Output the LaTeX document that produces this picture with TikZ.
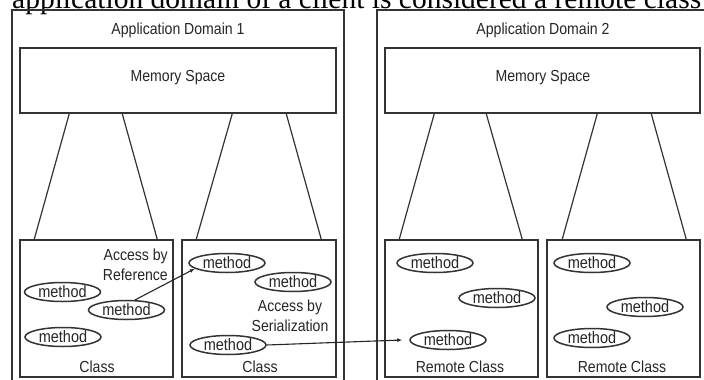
\documentclass[tikz,border=0pt]{standalone}
\usepackage{fontspec}
\setmainfont[FakeStretch=0.88]{Liberation Sans}
\newfontfamily\capserif{Liberation Serif}
\usetikzlibrary{shapes.geometric,arrows.meta}
\definecolor{ink}{HTML}{262626}
\definecolor{lin}{HTML}{333333}
\begin{document}
\begin{tikzpicture}[x=1pt,y=-1pt,
  txt/.style={font=\fontsize{16}{20}\selectfont, text=ink, inner sep=0pt},
  dombox/.style={draw=lin, line width=1.8pt},
  boxx/.style={draw=lin, line width=1.5pt, rectangle, inner sep=0pt},
  meth/.style={draw=lin, line width=1.5pt, ellipse, inner sep=0pt, minimum width=76pt, minimum height=19pt, font=\fontsize{16.5}{16}\selectfont, text=ink},
  link/.style={draw=lin, line width=1.2pt},
  arr/.style={draw=black!85, line width=1.1pt, -{Latex[length=5pt,width=4pt]}}
]
\useasboundingbox (0,0) rectangle (704,380);
\clip (0,0) rectangle (704,380);
\fill[white] (0,0) rectangle (704,380);

% cut-off caption line at top (cut in the reference too)
\node[anchor=base west, inner sep=0pt, font=\capserif\fontsize{29.5}{30}\selectfont] (cap) at (12,8.5) {application domain of a client is considered a remote class};

% domains
\draw[dombox] (12,10) rectangle (344,400);
\draw[dombox] (377,10) rectangle (720,400);
\node[txt] (d1) at (178,30) {Application Domain 1};
\node[txt] (d2) at (543,30) {Application Domain 2};

% memory spaces
\node[boxx, minimum width=316pt, minimum height=65pt] (mem1) at (178,80.5) {};
\node[boxx, minimum width=315pt, minimum height=65pt] (mem2) at (542.5,80.5) {};
\node[txt] at (178,78) {Memory Space};
\node[txt] at (543,78) {Memory Space};

% class boxes
\node[boxx, minimum width=153pt, minimum height=137pt] (c1) at (96.5,308.5) {};
\node[boxx, minimum width=154pt, minimum height=137pt] (c2) at (259,308.5) {};
\node[boxx, minimum width=153pt, minimum height=137pt] (c3) at (461.5,308.5) {};
\node[boxx, minimum width=153pt, minimum height=137pt] (c4) at (623.5,308.5) {};

% links memory -> classes
\draw[link] ([xshift=50pt]mem1.south west) -- ([xshift=15pt]c1.north west);
\draw[link] ([xshift=103pt]mem1.south west) -- ([xshift=138pt]c1.north west);
\draw[link] ([xshift=213pt]mem1.south west) -- ([xshift=15pt]c2.north west);
\draw[link] ([xshift=267pt]mem1.south west) -- ([xshift=140pt]c2.north west);
\draw[link] ([xshift=50pt]mem2.south west) -- ([xshift=15pt]c3.north west);
\draw[link] ([xshift=102pt]mem2.south west) -- ([xshift=138pt]c3.north west);
\draw[link] ([xshift=213pt]mem2.south west) -- ([xshift=16pt]c4.north west);
\draw[link] ([xshift=267pt]mem2.south west) -- ([xshift=140pt]c4.north west);

% methods
\node[meth] (m1) at (62.5,292) {method};
\node[meth] (m2) at (126.5,310) {method};
\node[meth] (m3) at (63,337) {method};
\node[meth] (m4) at (227,263) {method};
\node[meth] (m5) at (293,282) {method};
\node[meth] (m6) at (228,345) {method};
\node[meth] (m7) at (435,263) {method};
\node[meth] (m8) at (497,298) {method};
\node[meth] (m9) at (448,340) {method};
\node[meth] (m10) at (592,263) {method};
\node[meth] (m11) at (645,307) {method};
\node[meth] (m12) at (592,338) {method};

% labels
\node[txt, anchor=east, align=right] (ar) at (168,265) {Access by\\Reference};
\node[txt, align=center] (as) at (290,316) {Access by\\Serialization};
\node[txt] at (97,367) {Class};
\node[txt] at (260,367) {Class};
\node[txt] at (460,367) {Remote Class};
\node[txt] at (622,367) {Remote Class};

% arrows
\draw[arr] (m2.50) -- (m4.190);
\draw[arr] (m6.east) -- ([xshift=-7pt]m9.west);
\end{tikzpicture}
\end{document}
